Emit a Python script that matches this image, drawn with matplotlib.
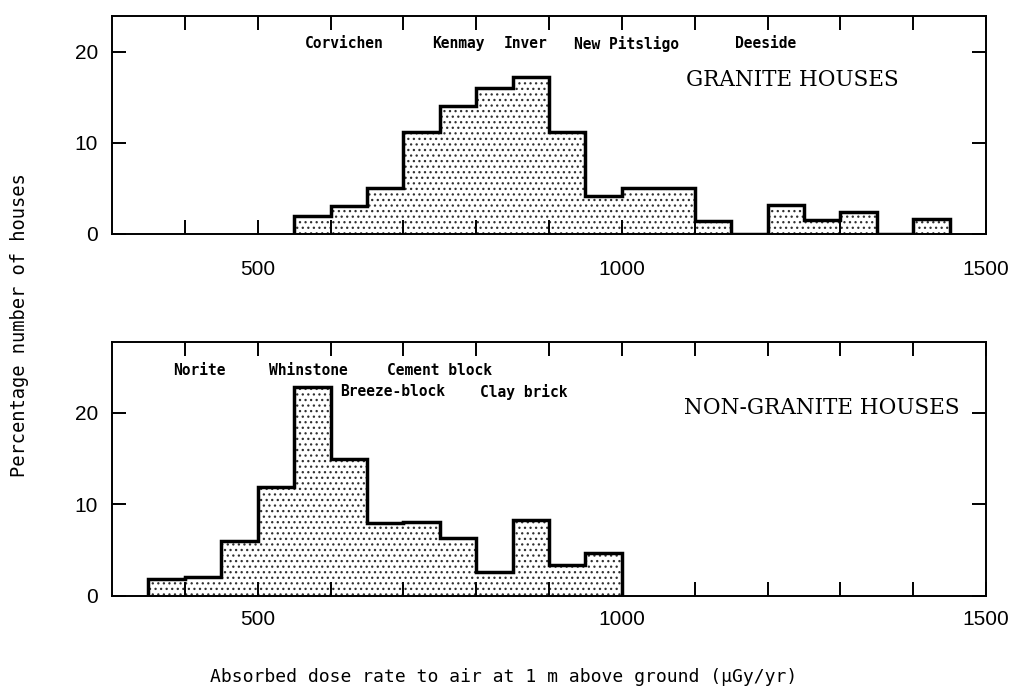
import matplotlib
matplotlib.use("Agg")
import matplotlib.pyplot as plt
import numpy as np

# Histogram bins (dose rate, uGy/yr) and percentage of houses in each bin
granite_edges = list(range(550, 1451, 50))
granite_pct = [2.0, 3.1, 5.1, 11.2, 14.1, 16.0, 17.2, 11.2, 4.2,
               5.1, 5.1, 1.4, 0.0, 3.2, 1.5, 2.4, 0.0, 1.6]

nongranite_edges = list(range(350, 1001, 50))
nongranite_pct = [1.9, 2.1, 6.0, 11.9, 22.8, 15.0, 8.0, 8.1, 6.3,
                  2.6, 8.3, 3.4, 4.7]

# Building-material labels: (text, x, y)
granite_materials = [("Corvichen", 619, 20.9), ("Kenmay", 776, 20.9),
                     ("Inver", 868, 20.9), ("New Pitsligo", 1006, 20.9),
                     ("Deeside", 1197, 20.9)]
nongranite_materials = [("Norite", 420, 24.6), ("Whinstone", 569, 24.6),
                        ("Cement block", 749, 24.6),
                        ("Breeze-block", 685, 22.3), ("Clay brick", 866, 22.3)]

x_ticks = list(range(400, 1501, 100))
x_labelled = [500, 1000, 1500]
y_ticks = [0, 10, 20]

plt.rcParams["hatch.linewidth"] = 0.9
plt.rcParams["hatch.color"] = "#303030"

fig = plt.figure(figsize=(10.12, 6.86), dpi=100)
ax_top = fig.add_axes([0.1107, 0.6589, 0.8636, 0.3185])
ax_bot = fig.add_axes([0.1107, 0.1312, 0.8636, 0.3703])

mono = "DejaVu Sans Mono"
sans = "Liberation Sans"


def draw_panel(ax, edges, pct, ylim, title, title_xy, materials, xpad):
    ax.stairs(pct, edges, fill=True, facecolor="white", edgecolor="#303030",
              hatch="...", linewidth=0, zorder=1)
    ax.stairs(pct, edges, baseline=0, color="black", linewidth=2.5, zorder=3)
    ax.set_xlim(300, 1500)
    ax.set_ylim(0, ylim)
    ax.set_xticks(x_ticks)
    ax.set_xticklabels([str(t) if t in x_labelled else "" for t in x_ticks])
    ax.set_yticks(y_ticks)
    ax.set_yticklabels([str(t) for t in y_ticks])
    ax.tick_params(axis="both", direction="in", length=10, width=1.4,
                   top=True, right=True, labelsize=15)
    ax.tick_params(axis="x", pad=xpad)
    ax.tick_params(axis="y", pad=10)
    for lab in ax.get_xticklabels() + ax.get_yticklabels():
        lab.set_family(sans)
    for sp in ax.spines.values():
        sp.set_linewidth(1.4)
        sp.set_zorder(4)
    for text, x, y in materials:
        ax.text(x, y, text, ha="center", va="center", family=mono,
                fontsize=10.5, fontweight="bold")
    ax.text(title_xy[0], title_xy[1], title, ha="center", va="center",
            family="DejaVu Serif", fontsize=15.5)


draw_panel(ax_top, granite_edges, granite_pct, 24.0, "GRANITE HOUSES",
           (1234, 16.9), granite_materials, 19)
draw_panel(ax_bot, nongranite_edges, nongranite_pct, 27.76,
           "NON-GRANITE HOUSES", (1274, 20.5), nongranite_materials, 10)

fig.text(504 / 1012, 1 - 677 / 686,
         "Absorbed dose rate to air at 1 m above ground (\u03bcGy/yr)",
         ha="center", va="center", family=mono, fontsize=13)
fig.text(20 / 1012, 1 - 325 / 686, "Percentage number of houses",
         ha="center", va="center", rotation=90, family=mono, fontsize=13.5)

fig.savefig("out.png", dpi=100)
